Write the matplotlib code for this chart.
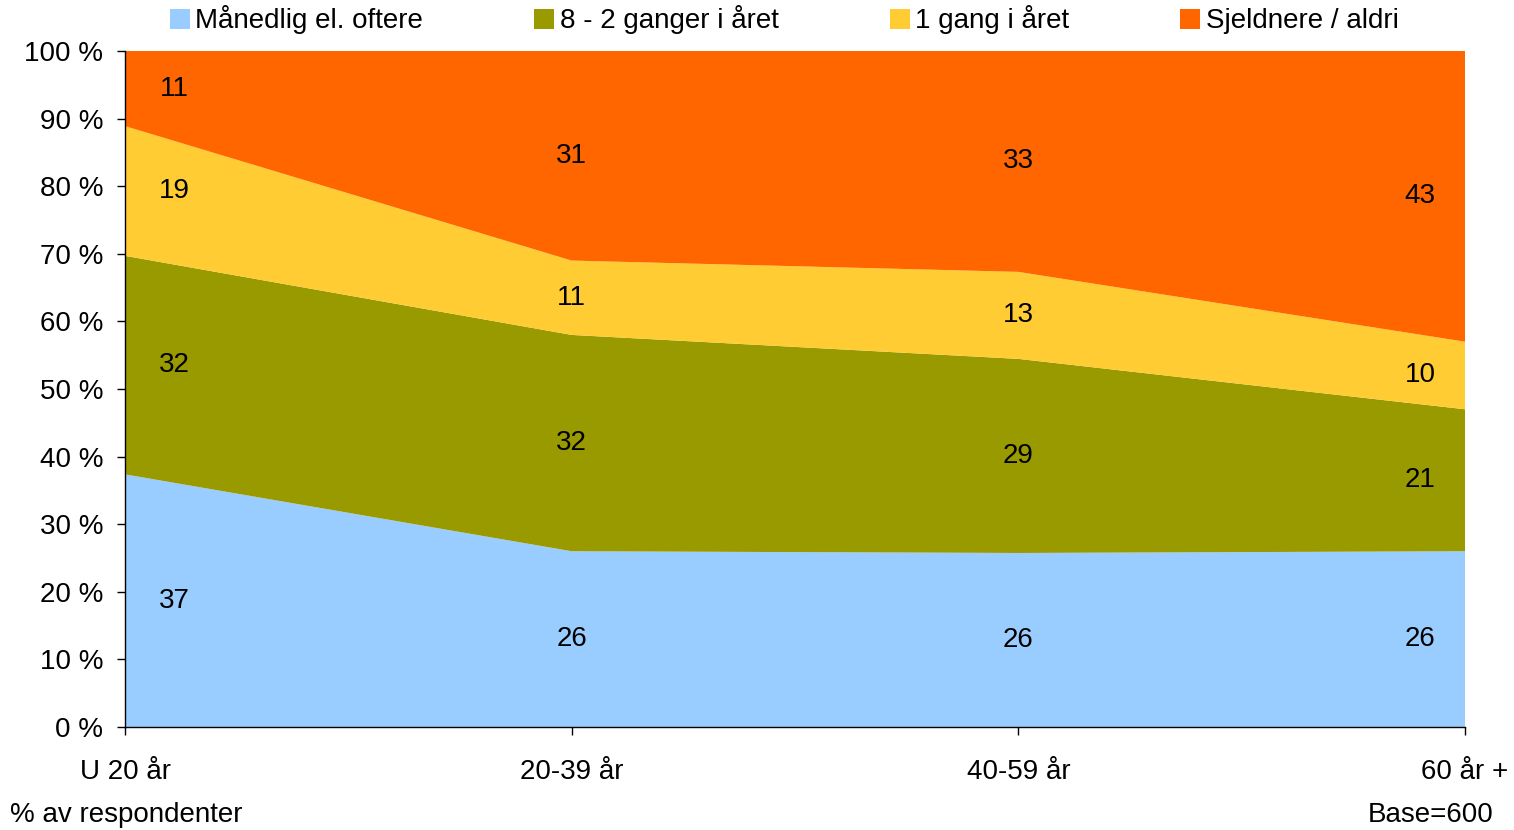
import matplotlib
matplotlib.use("Agg")
import matplotlib.pyplot as plt
import numpy as np
from matplotlib.patches import Patch

categories = ["U 20 år", "20-39 år", "40-59 år", "60 år +"]
series_names = ["Månedlig el. oftere", "8 - 2 ganger i året", "1 gang i året", "Sjeldnere / aldri"]
manedlig = [37, 26, 26, 26]
ganger_8_2 = [32, 32, 29, 21]
gang_1 = [19, 11, 13, 10]
sjeldnere = [11, 31, 33, 43]
ytick_labels = ["0 %", "10 %", "20 %", "30 %", "40 %", "50 %", "60 %", "70 %", "80 %", "90 %", "100 %"]

colors = ["#99CCFF", "#999900", "#FFCC33", "#FF6600"]

plt.rcParams['font.family'] = ['Liberation Sans', 'DejaVu Sans']
FS = 20

fig = plt.figure(figsize=(15.14, 8.30), dpi=100)
ax = fig.add_axes([125/1514, 1 - 727/830, (1465-125)/1514, (727-51)/830])

data = np.array([manedlig, ganger_8_2, gang_1, sjeldnere], dtype=float)
totals = data.sum(axis=0)
pct = data / totals * 100
x = np.arange(len(categories))

ax.stackplot(x, pct, colors=colors, linewidth=0)

cum = np.cumsum(pct, axis=0)
label_offsets = [0.11, 0, 0, -0.1]
for i in range(pct.shape[0]):
    for j in range(len(x)):
        lo = cum[i, j] - pct[i, j]
        mid = lo + pct[i, j] / 2
        ax.text(x[j] + label_offsets[j], mid, f"{int(data[i, j])}", ha="center", va="center",
                fontsize=FS, color="black")

ax.set_xlim(0, len(categories) - 1)
ax.set_ylim(0, 100)
ax.set_yticks(np.arange(0, 101, 10))
ax.set_yticklabels(ytick_labels, fontsize=FS)
ax.set_xticks(x)
ax.set_xticklabels(categories, fontsize=FS)
ax.tick_params(axis='y', direction='out', length=5.8, width=1, pad=10)
ax.tick_params(axis='x', direction='out', length=5.8, width=1, pad=17)
for s in ["top", "right"]:
    ax.spines[s].set_visible(False)
for s in ["left", "bottom"]:
    ax.spines[s].set_color("black")
    ax.spines[s].set_linewidth(1)

handles = [Patch(facecolor=c, edgecolor="none") for c in colors]
fig.legend(handles, series_names, loc="center", bbox_to_anchor=(0.518, 1 - 20/830), ncol=4,
           frameon=False, fontsize=FS, handlelength=0.72, handleheight=0.72,
           handletextpad=0.2, columnspacing=4.0, borderaxespad=0, borderpad=0)

fig.text(10/1514, 1 - 815/830, "% av respondenter", fontsize=FS, ha="left", va="center")
fig.text(1494/1514, 1 - 815/830, "Base=600", fontsize=FS, ha="right", va="center")

fig.savefig("out.png", dpi=100)
